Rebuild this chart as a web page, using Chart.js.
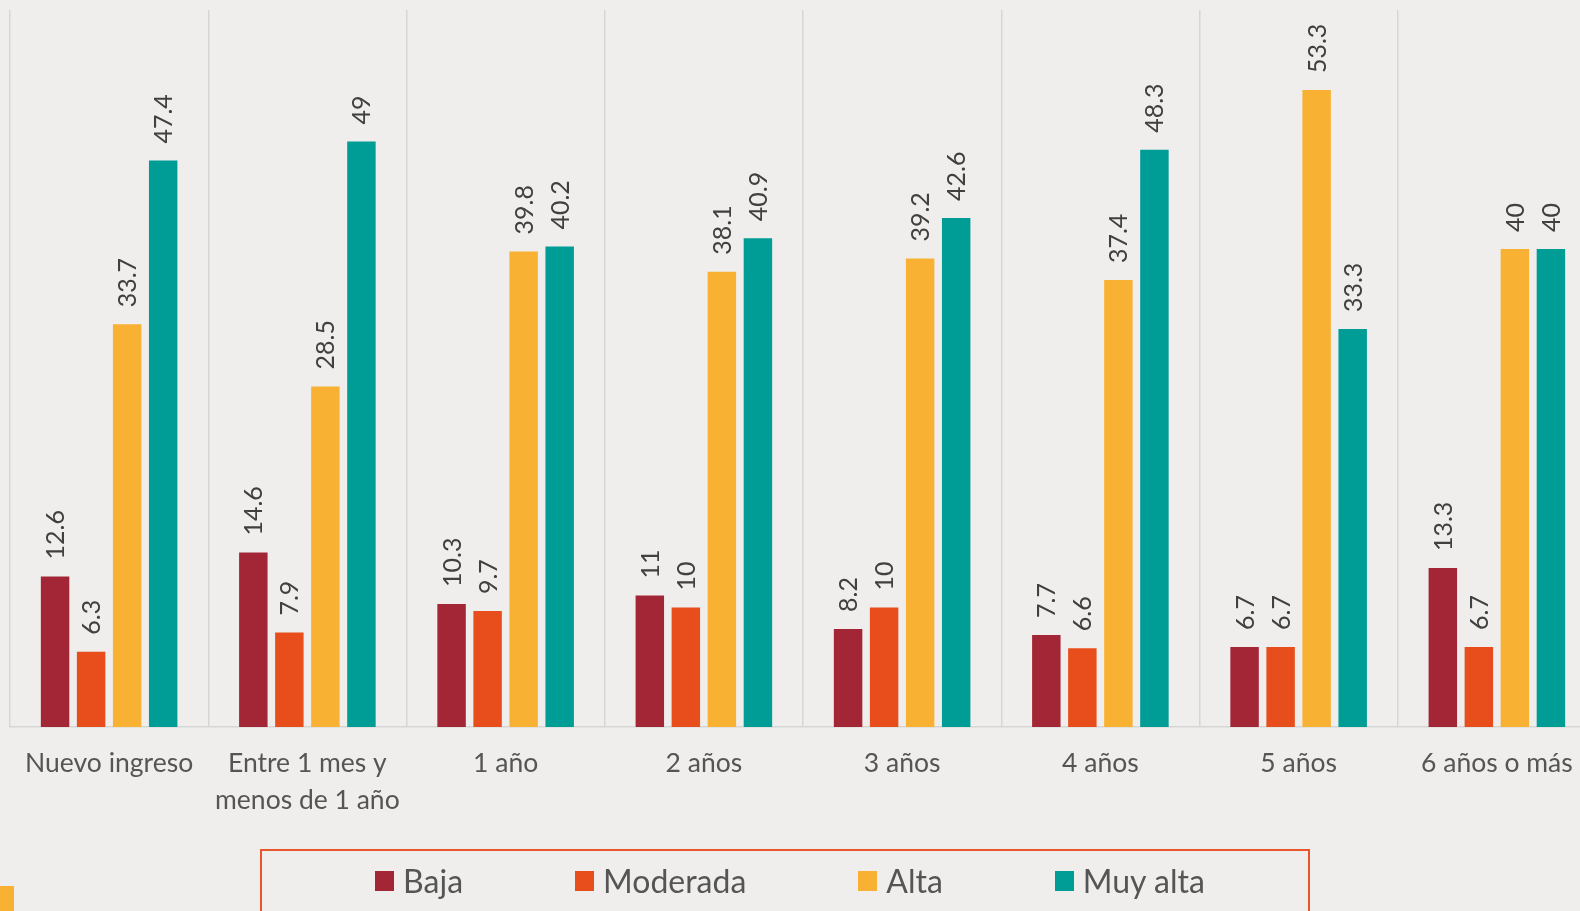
<!DOCTYPE html>
<html lang="es">
<head>
<meta charset="utf-8">
<title>Nivel por antigüedad</title>
<script src="https://cdn.jsdelivr.net/npm/chart.js@4.4.1/dist/chart.umd.min.js"></script>
<style>
  html, body { margin: 0; padding: 0; }
  body {
    width: 1580px; height: 911px; overflow: hidden; position: relative;
    background: #efeeec;
    font-family: Lato, "Open Sans", sans-serif;
  }
  #wrap { position: absolute; left: -20px; top: 0; width: 1620px; height: 911px; }
  #legendBox {
    position: absolute; left: 260px; top: 849px; width: 1050px; height: 100px;
    border: 2px solid #e9562b; box-sizing: border-box;
  }
  #legend {
    position: absolute; left: 0; top: 861px; width: 1580px;
    display: flex; justify-content: center; gap: 112px;
    font-size: 32px; color: #555;
  }
  #legend .item { display: flex; align-items: center; }
  #legend .sw { width: 19px; height: 20px; margin-right: 9px; }
  #corner { position: absolute; left: 0; top: 886px; width: 14px; height: 30px; background: #f8b133; }
</style>
</head>
<body>
<div id="wrap"><canvas id="chart"></canvas></div>
<div id="legendBox"></div>
<div id="legend"></div>
<div id="corner"></div>
<script>
const categories = ['Nuevo ingreso', ['Entre 1 mes y', 'menos de 1 año'], '1 año', '2 años', '3 años', '4 años', '5 años', '6 años o más'];
const seriesNames = ['Baja', 'Moderada', 'Alta', 'Muy alta'];
const seriesColors = ['#a32636', '#e84e1c', '#f8b133', '#009c96'];
const baja = [12.6, 14.6, 10.3, 11, 8.2, 7.7, 6.7, 13.3];
const moderada = [6.3, 7.9, 9.7, 10, 10, 6.6, 6.7, 6.7];
const alta = [33.7, 28.5, 39.8, 38.1, 39.2, 37.4, 53.3, 40];
const muyAlta = [47.4, 49, 40.2, 40.9, 42.6, 48.3, 33.3, 40];
const seriesValues = [baja, moderada, alta, muyAlta];

// rotated value labels above each bar
const valueLabels = {
  id: 'valueLabels',
  afterDatasetsDraw(chart) {
    const ctx = chart.ctx;
    ctx.save();
    ctx.font = '25px Lato, "Open Sans", sans-serif';
    ctx.fillStyle = '#404040';
    ctx.textAlign = 'left';
    ctx.textBaseline = 'middle';
    chart.data.datasets.forEach((ds, i) => {
      chart.getDatasetMeta(i).data.forEach((bar, j) => {
        ctx.save();
        ctx.translate(bar.x + 1, bar.y - 17);
        ctx.rotate(-Math.PI / 2);
        ctx.fillText(String(ds.data[j]), 0, 0);
        ctx.restore();
      });
    });
    ctx.restore();
  }
};

new Chart(document.getElementById('chart'), {
  type: 'bar',
  data: {
    labels: categories,
    datasets: seriesNames.map((name, i) => ({
      label: name,
      data: seriesValues[i],
      backgroundColor: seriesColors[i],
      categoryPercentage: 0.727,
      barPercentage: 0.79
    }))
  },
  options: {
    responsive: true,
    maintainAspectRatio: false,
    animation: false,
    layout: { padding: { top: 10, left: 30, right: 4, bottom: 0 } },
    plugins: { legend: { display: false }, tooltip: { enabled: false } },
    scales: {
      x: {
        grid: { color: '#d6d6d6', lineWidth: 1.5, drawTicks: false, offset: true },
        border: { display: true, color: '#d6d6d6', width: 1.5 },
        ticks: {
          color: '#555',
          padding: 18,
          maxRotation: 0,
          autoSkip: false,
          font: { family: 'Lato, "Open Sans", sans-serif', size: 26.5, lineHeight: 1.4 }
        },
        afterFit(axis) { axis.height = 184; }
      },
      y: { display: false, min: 0, max: 60 }
    }
  },
  plugins: [valueLabels]
});

const legend = document.getElementById('legend');
seriesNames.forEach((name, i) => {
  const item = document.createElement('div');
  item.className = 'item';
  const sw = document.createElement('span');
  sw.className = 'sw';
  sw.style.background = seriesColors[i];
  item.appendChild(sw);
  item.appendChild(document.createTextNode(name));
  legend.appendChild(item);
});
</script>
</body>
</html>
